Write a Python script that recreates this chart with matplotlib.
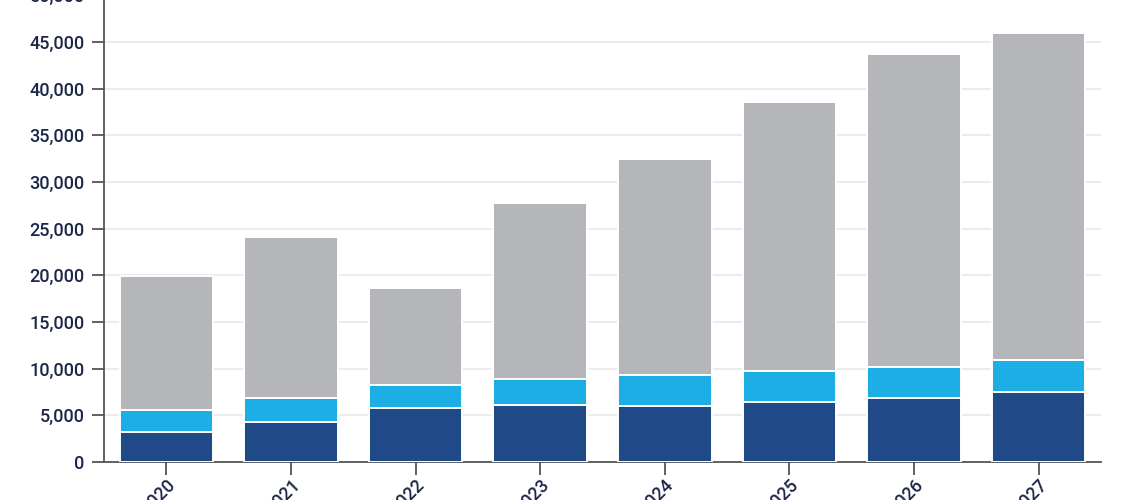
import numpy as np
import matplotlib.pyplot as plt
from matplotlib.ticker import FuncFormatter, MultipleLocator

years = ["2020", "2021", "2022", "2023", "2024", "2025", "2026", "2027"]
# cumulative tops, turned into segment sizes below
dark_vals = [3250, 4250, 5750, 6100, 6000, 6400, 6900, 7450]
light_vals = [2350, 2650, 2550, 2800, 3300, 3300, 3300, 3500]
grey_vals = [14300, 17200, 10300, 18900, 23200, 28900, 33500, 35050]

c_dark = "#1f4a87"
c_light = "#1eaee6"
c_grey = "#b5b6b9"
c_text = "#1c2646"

plt.rcParams['font.family'] = ['Roboto', 'DejaVu Sans']

fig = plt.figure(figsize=(11.4, 5.0), dpi=100)
ax = fig.add_axes([0.0912, 0.076, 0.8746, 0.9334])

x = np.arange(len(years))
dark = np.array(dark_vals)
light = np.array(light_vals)
grey = np.array(grey_vals)
w = 0.75
ec = "white"
ax.bar(x, dark, w, color=c_dark, edgecolor=ec, linewidth=1.4, zorder=3)
ax.bar(x, light, w, bottom=dark, color=c_light, edgecolor=ec, linewidth=1.4, zorder=3)
ax.bar(x, grey, w, bottom=dark + light, color=c_grey, edgecolor=ec, linewidth=1.4, zorder=3)

ax.set_xlim(-0.5, 7.5)
ax.set_ylim(0, 50000)
ax.yaxis.set_major_locator(MultipleLocator(5000))
ax.yaxis.set_major_formatter(FuncFormatter(lambda v, p: "{:,.0f}".format(v)))
ax.grid(axis="y", color="#e9e9e9", linewidth=1.2, zorder=0)
ax.set_axisbelow(True)

for s in ["top", "right"]:
    ax.spines[s].set_visible(False)
for s in ["left", "bottom"]:
    ax.spines[s].set_color("#555555")
    ax.spines[s].set_linewidth(1.3)

ax.set_xticks(x)
ax.set_xticklabels(years, rotation=45, ha="right", rotation_mode="anchor")
ax.tick_params(axis="both", colors="#555555", length=9, width=1.3, labelcolor=c_text, labelsize=13)
ax.tick_params(axis="y", pad=5)
ax.tick_params(axis="x", pad=1)
for lab in ax.get_xticklabels() + ax.get_yticklabels():
    lab.set_fontweight("medium")

fig.savefig("out.png", dpi=100)
